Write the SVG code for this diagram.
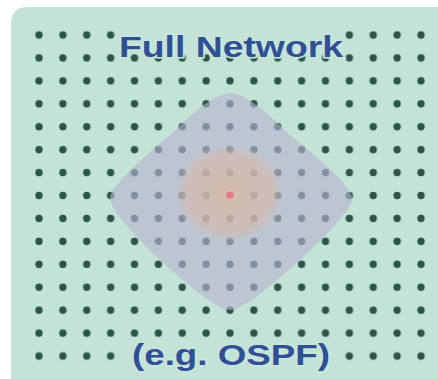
<svg xmlns="http://www.w3.org/2000/svg" width="438" height="379" viewBox="0 0 438 379">
  <defs>
    <pattern id="dots" patternUnits="userSpaceOnUse" x="27.06" y="23.54" width="23.875" height="22.93">
      <circle cx="11.94" cy="11.46" r="3.7" fill="#2b5546"/>
    </pattern>
    <radialGradient id="core" cx="0.5" cy="0.5" r="0.5">
      <stop offset="0" stop-color="#dcb6a0" stop-opacity="0.75"/>
      <stop offset="0.75" stop-color="#d8b8a6" stop-opacity="0.6"/>
      <stop offset="1" stop-color="#d4bab0" stop-opacity="0"/>
    </radialGradient>
  </defs>
  <style>
    .title { font-family: "Liberation Sans", Arial, sans-serif; font-weight: bold; fill: #2f4f96; text-anchor: middle; paint-order: stroke; stroke: #c9e6d8; stroke-width: 3; }
  </style>
  <rect x="0" y="0" width="438" height="379" fill="#ffffff"/>
  <g id="panel">
    <path d="M11,24 Q11,7 28,7 L438,7 L438,379 L11,379 Z" fill="#c4e3d6"/>
    <rect x="27" y="23" width="406" height="345" fill="url(#dots)"/>
    <rect x="124" y="22" width="215" height="26" fill="#c4e3d6"/>
    <rect x="124" y="345" width="215" height="24" fill="#c4e3d6"/>
  </g>
  <g id="region">
    <path d="M230,93 Q248,93 290,135 Q352,185 352,198 Q352,212 300,260 Q245,310 230,310 Q215,310 160,260 Q110,212 110,198 Q110,185 170,135 Q212,93 230,93 Z" fill="#b6b5d2" fill-opacity="0.62"/>
    <ellipse cx="229" cy="193" rx="56" ry="50" fill="url(#core)"/>
    <circle cx="230" cy="195" r="3.6" fill="#e87a82"/>
  </g>
  <g id="labels">
    <text class="title" x="231" y="57" font-size="30" textLength="224" lengthAdjust="spacingAndGlyphs">Full Network</text>
    <text class="title" x="231" y="365" font-size="29" textLength="198" lengthAdjust="spacingAndGlyphs">(e.g. OSPF)</text>
  </g>
</svg>
